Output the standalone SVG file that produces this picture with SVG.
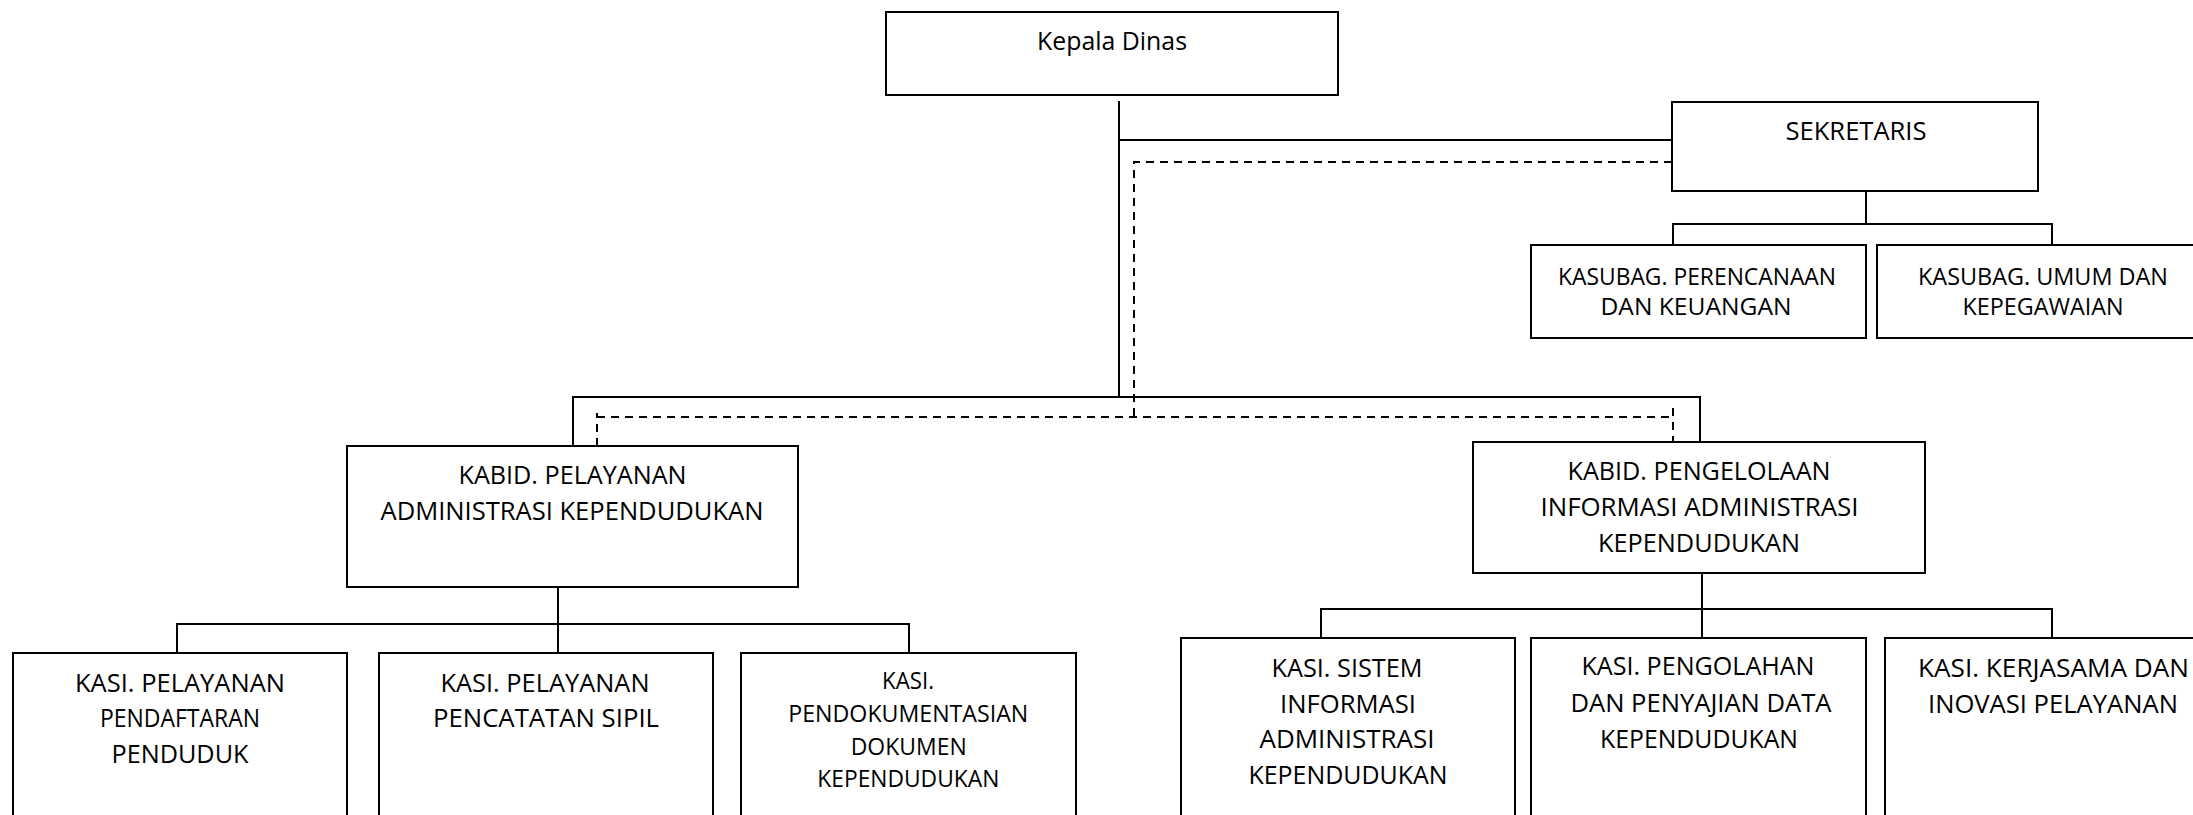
<svg xmlns="http://www.w3.org/2000/svg" width="2193" height="815" viewBox="0 0 2193 815">
<style>
.box{fill:#fff;stroke:#000;stroke-width:2}
.ln{fill:none;stroke:#000;stroke-width:2}
.dash{fill:none;stroke:#000;stroke-width:2;stroke-dasharray:8 6}
text{font-family:"Open Sans","Noto Sans","Liberation Sans",sans-serif;font-size:25px;fill:#000;text-anchor:middle}
.s{font-size:24px}
.xs{font-size:23px}
</style>
<rect width="2193" height="815" fill="#fff"/>
<g id="connectors">
<path class="ln" d="M1119 101V397M1119 140H1672M573 446V397H1700V442M1866 191V224M1673 245V224H2052V245M558 587V653M177 653V624H909V653M1702 573V638M1321 638V609H2052V638"/>
<path class="dash" d="M1672 162H1134V417M597 446V413M597 417H1673M1673 408V442"/>
</g>
<g id="kepala-dinas"><rect class="box" x="886" y="12" width="452" height="83"/><text x="1112" y="50" textLength="150" lengthAdjust="spacingAndGlyphs">Kepala Dinas</text></g>
<g id="sekretaris"><rect class="box" x="1672" y="102" width="366" height="89"/><text x="1856" y="140" textLength="141" lengthAdjust="spacingAndGlyphs">SEKRETARIS</text></g>
<g id="kasubag-perencanaan"><rect class="box" x="1531" y="245" width="335" height="93"/><text class="s" x="1697" y="285" textLength="278" lengthAdjust="spacingAndGlyphs">KASUBAG. PERENCANAAN</text><text class="s" x="1696" y="315" textLength="191" lengthAdjust="spacingAndGlyphs">DAN KEUANGAN</text></g>
<g id="kasubag-umum"><rect class="box" x="1877" y="245" width="334" height="93"/><text class="s" x="2043" y="285" textLength="250" lengthAdjust="spacingAndGlyphs">KASUBAG. UMUM DAN</text><text class="s" x="2043" y="315" textLength="161" lengthAdjust="spacingAndGlyphs">KEPEGAWAIAN</text></g>
<g id="kabid-pelayanan"><rect class="box" x="347" y="446" width="451" height="141"/><text x="572.5" y="484" textLength="228" lengthAdjust="spacingAndGlyphs">KABID. PELAYANAN</text><text x="572" y="520" textLength="383" lengthAdjust="spacingAndGlyphs">ADMINISTRASI KEPENDUDUKAN</text></g>
<g id="kabid-pengelolaan"><rect class="box" x="1473" y="442" width="452" height="131"/><text x="1699" y="480" textLength="263" lengthAdjust="spacingAndGlyphs">KABID. PENGELOLAAN</text><text x="1699.5" y="516" textLength="318" lengthAdjust="spacingAndGlyphs">INFORMASI ADMINISTRASI</text><text x="1699" y="552" textLength="202" lengthAdjust="spacingAndGlyphs">KEPENDUDUKAN</text></g>
<g id="kasi-pendaftaran"><rect class="box" x="13" y="653" width="334" height="180"/><text x="180" y="692" textLength="210" lengthAdjust="spacingAndGlyphs">KASI. PELAYANAN</text><text x="180" y="727" textLength="160" lengthAdjust="spacingAndGlyphs">PENDAFTARAN</text><text x="180" y="763" textLength="137" lengthAdjust="spacingAndGlyphs">PENDUDUK</text></g>
<g id="kasi-pencatatan"><rect class="box" x="379" y="653" width="334" height="180"/><text x="545" y="692" textLength="209" lengthAdjust="spacingAndGlyphs">KASI. PELAYANAN</text><text x="546" y="727" textLength="226" lengthAdjust="spacingAndGlyphs">PENCATATAN SIPIL</text></g>
<g id="kasi-pendokumentasian"><rect class="box" x="741" y="653" width="335" height="180"/><text class="xs" x="908" y="689" textLength="52" lengthAdjust="spacingAndGlyphs">KASI.</text><text class="xs" x="908.3" y="722" textLength="240" lengthAdjust="spacingAndGlyphs">PENDOKUMENTASIAN</text><text class="xs" x="908.7" y="755" textLength="116" lengthAdjust="spacingAndGlyphs">DOKUMEN</text><text class="xs" x="908.3" y="787" textLength="182" lengthAdjust="spacingAndGlyphs">KEPENDUDUKAN</text></g>
<g id="kasi-sistem"><rect class="box" x="1181" y="638" width="334" height="200"/><text x="1347" y="677" textLength="151" lengthAdjust="spacingAndGlyphs">KASI. SISTEM</text><text x="1348" y="713" textLength="136" lengthAdjust="spacingAndGlyphs">INFORMASI</text><text x="1347" y="748" textLength="175" lengthAdjust="spacingAndGlyphs">ADMINISTRASI</text><text x="1348" y="784" textLength="199" lengthAdjust="spacingAndGlyphs">KEPENDUDUKAN</text></g>
<g id="kasi-pengolahan"><rect class="box" x="1531" y="638" width="335" height="200"/><text x="1698" y="675" textLength="233" lengthAdjust="spacingAndGlyphs">KASI. PENGOLAHAN</text><text x="1701" y="712" textLength="261" lengthAdjust="spacingAndGlyphs">DAN PENYAJIAN DATA</text><text x="1699" y="748" textLength="198" lengthAdjust="spacingAndGlyphs">KEPENDUDUKAN</text></g>
<g id="kasi-kerjasama"><rect class="box" x="1885" y="638" width="335" height="200"/><text x="2053.5" y="677" textLength="271" lengthAdjust="spacingAndGlyphs">KASI. KERJASAMA DAN</text><text x="2053" y="713" textLength="250" lengthAdjust="spacingAndGlyphs">INOVASI PELAYANAN</text></g>
</svg>
